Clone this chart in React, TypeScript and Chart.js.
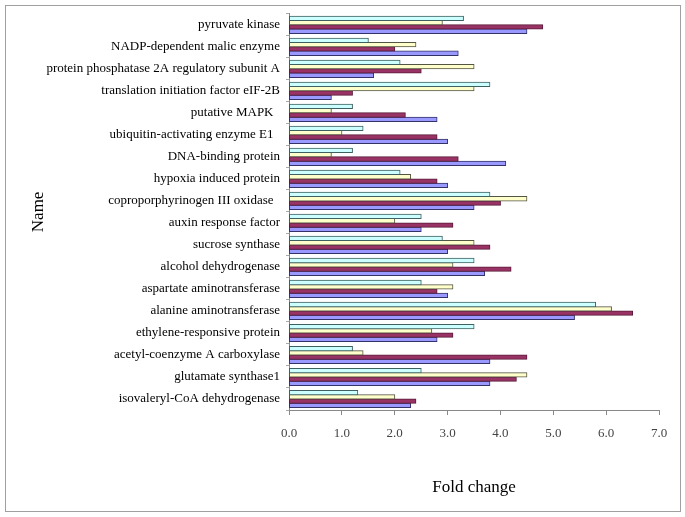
import React, { useEffect, useRef } from "react";
import { Chart, registerables } from "chart.js";

Chart.register(...registerables);

const categories = [
  "pyruvate kinase",
  "NADP-dependent malic enzyme",
  "protein phosphatase 2A regulatory subunit A",
  "translation initiation factor eIF-2B",
  "putative MAPK  ",
  "ubiquitin-activating enzyme E1  ",
  "DNA-binding protein",
  "hypoxia induced protein",
  "coproporphyrinogen III oxidase  ",
  "auxin response factor",
  "sucrose synthase",
  "alcohol dehydrogenase",
  "aspartate aminotransferase",
  "alanine aminotransferase",
  "ethylene-responsive protein",
  "acetyl-coenzyme A carboxylase",
  "glutamate synthase1",
  "isovaleryl-CoA dehydrogenase",
];

const seriesCyan = [3.3, 1.5, 2.1, 3.8, 1.2, 1.4, 1.2, 2.1, 3.8, 2.5, 2.9, 3.5, 2.5, 5.8, 3.5, 1.2, 2.5, 1.3];
const seriesYellow = [2.9, 2.4, 3.5, 3.5, 0.8, 1.0, 0.8, 2.3, 4.5, 2.0, 3.5, 3.1, 3.1, 6.1, 2.7, 1.4, 4.5, 2.0];
const seriesMaroon = [4.8, 2.0, 2.5, 1.2, 2.2, 2.8, 3.2, 2.8, 4.0, 3.1, 3.8, 4.2, 2.8, 6.5, 3.1, 4.5, 4.3, 2.4];
const seriesBlue = [4.5, 3.2, 1.6, 0.8, 2.8, 3.0, 4.1, 3.0, 3.5, 2.5, 3.0, 3.7, 3.0, 5.4, 2.8, 3.8, 3.8, 2.3];

const xMin = 0;
const xMax = 7;
const xStep = 1;

const SERIF = '"Liberation Serif", "Times New Roman", serif';

export default function App() {
  const ref = useRef<HTMLCanvasElement | null>(null);

  useEffect(() => {
    if (!ref.current) return;
    const mk = (label: string, data: number[], bg: string, border: string) => ({
      label,
      data,
      backgroundColor: bg,
      borderColor: border,
      borderWidth: 1,
      borderSkipped: false,
      inflateAmount: 0.5,
      barPercentage: 1.0,
      categoryPercentage: 0.78,
    });
    const chart = new Chart(ref.current, {
      type: "bar",
      data: {
        labels: categories,
        datasets: [
          mk("S4", seriesCyan, "#CCFFFF", "#3f6060"),
          mk("S3", seriesYellow, "#FFFFCC", "#555544"),
          mk("S2", seriesMaroon, "#993366", "#5a1a38"),
          mk("S1", seriesBlue, "#9999FF", "#33336a"),
        ],
      },
      options: {
        indexAxis: "y",
        responsive: false,
        animation: false,
        layout: { padding: { left: 28, right: 26, top: 12, bottom: 19 } },
        plugins: { legend: { display: false }, tooltip: { enabled: false } },
        scales: {
          x: {
            min: xMin,
            max: xMax,
            afterFit: (s: any) => {
              s.height = 88;
            },
            ticks: {
              stepSize: xStep,
              callback: (v: any) => Number(v).toFixed(1),
              font: { family: SERIF, size: 13 },
              color: "#444",
              padding: 11,
            },
            grid: { drawOnChartArea: false, tickLength: 5, color: "#888" },
            border: { color: "#888" },
            title: {
              display: true,
              text: "Fold change",
              font: { family: SERIF, size: 17 },
              color: "#000",
              padding: 0,
            },
          },
          y: {
            afterFit: (s: any) => {
              s.width = 261;
            },
            ticks: {
              font: { family: SERIF, size: 13 },
              color: "#000",
              padding: 6,
              autoSkip: false,
            },
            grid: { drawOnChartArea: false, tickLength: 3, color: "#aaa", offset: true },
            border: { color: "#888" },
            title: {
              display: true,
              text: "Name",
              font: { family: SERIF, size: 17 },
              color: "#000",
              padding: 0,
            },
          },
        },
      },
    } as any);
    return () => chart.destroy();
  }, []);

  return (
    <div style={{ position: "fixed", left: 0, top: 0, width: 685, height: 517, background: "#fff" }}>
      <div
        style={{
          position: "absolute",
          left: 5,
          top: 5,
          width: 676,
          height: 507,
          border: "1px solid #a0a0a0",
          boxSizing: "border-box",
        }}
      />
      <canvas ref={ref} width={685} height={517} style={{ position: "absolute", left: 0, top: 0 }} />
    </div>
  );
}
